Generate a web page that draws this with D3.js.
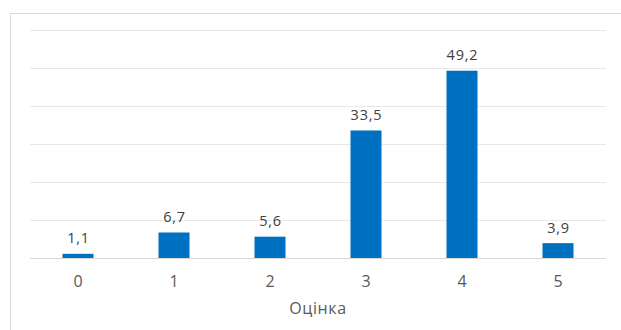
<!DOCTYPE html>
<html>
<head>
<meta charset="utf-8">
<script src="https://cdn.jsdelivr.net/npm/d3@7/dist/d3.min.js"></script>
<style>
  html, body { margin: 0; padding: 0; background: #fff; }
  svg { display: block; font-family: "Open Sans", "Noto Sans", sans-serif; }
</style>
</head>
<body>
<svg id="chart" width="621" height="330"></svg>
<script>
// Distribution of grades (percent)
const categories = ["0", "1", "2", "3", "4", "5"];
const values = [1.1, 6.7, 5.6, 33.5, 49.2, 3.9];
const yTicks = [0, 10, 20, 30, 40, 50, 60];
const axisTitle = "Оцінка";

const svg = d3.select("#chart");
const W = 621, H = 330;

// Chart frame
svg.append("rect")
  .attr("x", 10.5).attr("y", 13.5)
  .attr("width", W + 10).attr("height", H + 10)
  .attr("fill", "#fff")
  .attr("stroke", "#d9d9d9").attr("stroke-width", 1);

const plot = { left: 30, right: 606, top: 29.6, bottom: 258 };

const x = d3.scaleBand()
  .domain(categories)
  .range([plot.left, plot.right])
  .paddingInner(0.677)
  .paddingOuter(0.3385);

const y = d3.scaleLinear()
  .domain([0, 60])
  .range([plot.bottom, plot.top]);

// Horizontal gridlines
svg.append("g")
  .selectAll("line")
  .data(yTicks)
  .join("line")
  .attr("x1", plot.left).attr("x2", plot.right)
  .attr("y1", d => Math.round(y(d)) + 0.5)
  .attr("y2", d => Math.round(y(d)) + 0.5)
  .attr("stroke", d => d === 0 ? "#d9d9d9" : "#e8e8e8")
  .attr("stroke-width", 1);

// Bars
svg.append("g")
  .selectAll("rect")
  .data(values)
  .join("rect")
  .attr("x", (d, i) => x(categories[i]))
  .attr("width", x.bandwidth())
  .attr("y", d => y(d))
  .attr("height", d => y(0) - y(d))
  .attr("fill", "#0070c0");

// Value labels
const fmt = v => v.toFixed(1).replace(".", ",");
svg.append("g")
  .selectAll("text")
  .data(values)
  .join("text")
  .attr("x", (d, i) => x(categories[i]) + x.bandwidth() / 2 + 0.5)
  .attr("y", d => y(d) - 10.5)
  .attr("text-anchor", "middle")
  .attr("font-size", 14.5)
  .attr("letter-spacing", 0.8)
  .attr("fill", "#404040")
  .text(d => fmt(d));

// Category axis
const xAxis = svg.append("g")
  .attr("transform", `translate(0,${plot.bottom})`)
  .call(d3.axisBottom(x).tickSize(0).tickPadding(0));
xAxis.select(".domain").remove();
xAxis.selectAll("text")
  .attr("dy", null)
  .attr("y", 29)
  .attr("font-size", 16)
  .attr("fill", "#595959")
  .attr("font-family", "\"Open Sans\", \"Noto Sans\", sans-serif");

// Axis title
svg.append("text")
  .attr("x", (plot.left + plot.right) / 2)
  .attr("y", 314)
  .attr("text-anchor", "middle")
  .attr("font-size", 16)
  .attr("letter-spacing", 0.6)
  .attr("fill", "#595959")
  .text(axisTitle);
</script>
</body>
</html>
